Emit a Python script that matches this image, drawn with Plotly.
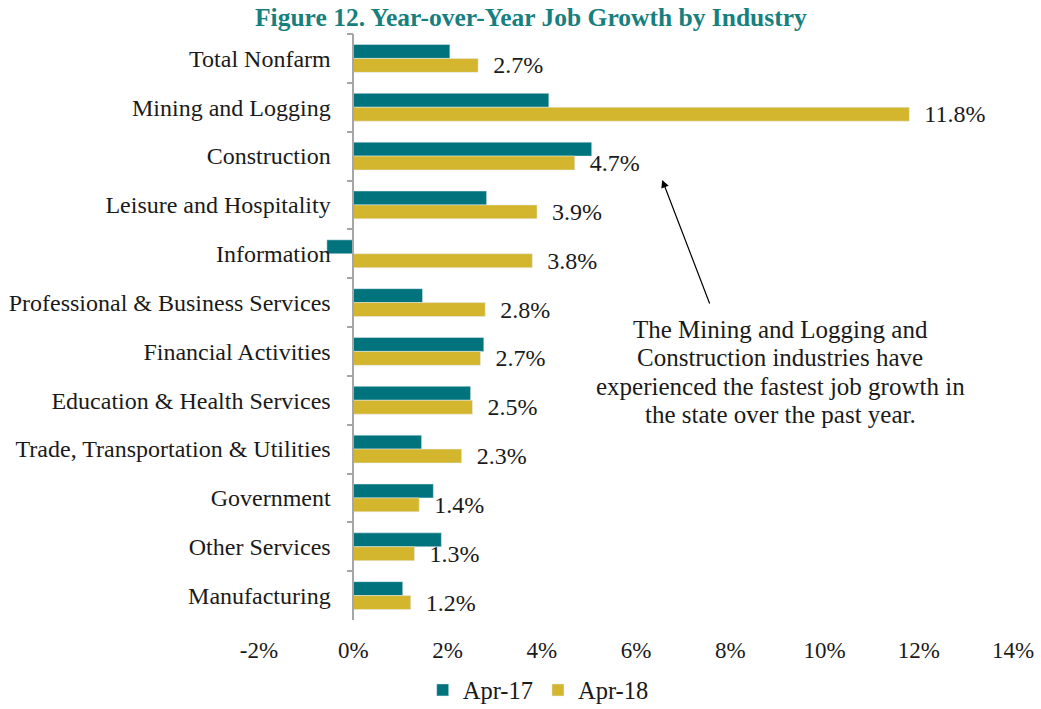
import plotly.graph_objects as go

categories = ["Total Nonfarm", "Mining and Logging", "Construction", "Leisure and Hospitality",
              "Information", "Professional & Business Services", "Financial Activities",
              "Education & Health Services", "Trade, Transportation & Utilities", "Government",
              "Other Services", "Manufacturing"]
apr17 = [2.05, 4.15, 5.06, 2.83, -0.56, 1.47, 2.77, 2.49, 1.45, 1.70, 1.87, 1.05]
apr18 = [2.65, 11.8, 4.7, 3.9, 3.8, 2.8, 2.7, 2.53, 2.3, 1.4, 1.3, 1.22]
apr18_labels = ["2.7%", "11.8%", "4.7%", "3.9%", "3.8%", "2.8%", "2.7%", "2.5%", "2.3%", "1.4%", "1.3%", "1.2%"]
x_ticks = [-2, 0, 2, 4, 6, 8, 10, 12, 14]
x_tick_labels = ["-2%", "0%", "2%", "4%", "6%", "8%", "10%", "12%", "14%"]
note_lines = ["The Mining and Logging and", "Construction industries have",
              "experienced the fastest job growth in", "the state over the past year."]

TEAL = "#00737D"
GOLD = "#D3B62D"
FONT = "Liberation Serif"
TXT = "#1a1a1a"
AXIS = "#A6A6A6"

fig = go.Figure()
fig.add_trace(go.Bar(y=categories, x=apr17, orientation="h", name="Apr-17",
                     marker=dict(color=TEAL), hoverinfo="skip"))
fig.add_trace(go.Bar(y=categories, x=apr18, orientation="h", name="Apr-18",
                     marker=dict(color=GOLD), text=["  " + t for t in apr18_labels],
                     textposition="outside", cliponaxis=False, constraintext="none",
                     textfont=dict(family=FONT, size=24, color=TXT), hoverinfo="skip"))

fig.update_layout(
    width=1041, height=709,
    margin=dict(l=259, r=28, t=34, b=89, autoexpand=False),
    paper_bgcolor="white", plot_bgcolor="white",
    barmode="group", bargap=0.43, bargroupgap=0.0,
    font=dict(family=FONT, size=24, color=TXT),
    title=dict(text="<b>Figure 12. Year-over-Year Job Growth by Industry</b>",
               x=0.51, xanchor="center", y=0.976, yanchor="middle",
               font=dict(family=FONT, size=25.5, color="#17807F")),
    xaxis=dict(range=[-2, 14], tickvals=x_ticks, ticktext=x_tick_labels,
               showgrid=False, zeroline=False, showline=False, ticks="",
               automargin=False,
               tickfont=dict(family=FONT, size=23, color=TXT), ticklabelstandoff=14),
    yaxis=dict(categoryorder="array", categoryarray=categories, autorange="reversed",
               showgrid=False, zeroline=False, automargin=False,
               anchor="free", position=0.125,
               showline=True, linecolor=AXIS, linewidth=1.5,
               ticks="outside", tickson="boundaries", ticklen=6, tickcolor=AXIS, tickwidth=1.5,
               ticklabelstandoff=17,
               tickfont=dict(family=FONT, size=24, color=TXT)),
    legend=dict(orientation="h", xref="container", yref="container",
                x=0.517, xanchor="center", y=(709 - 690) / 709, yanchor="middle",
                font=dict(family=FONT, size=24.5, color=TXT), itemwidth=30,
                traceorder="normal"),
    showlegend=True,
)

for i, line in enumerate(note_lines):
    fig.add_annotation(text=line, xref="x", yref="paper", x=9.06,
                       y=(620 - (329 + 28.5 * i)) / 586, showarrow=False,
                       font=dict(family=FONT, size=25, color=TXT), align="center")
fig.add_annotation(text="", xref="x", yref="paper", x=6.556, y=0.751,
                   ax=48, ay=125, showarrow=True, arrowhead=2, arrowsize=1.3,
                   arrowwidth=1.2, arrowcolor="black", standoff=0)

fig.write_html("out.html", config={"displayModeBar": False},
               post_script="document.body.style.margin='0';document.body.style.padding='0';")
